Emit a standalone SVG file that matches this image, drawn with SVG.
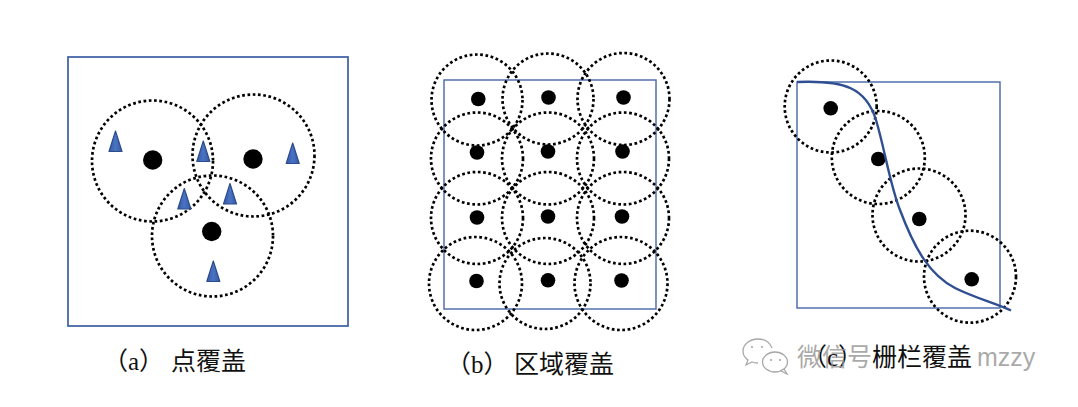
<svg xmlns="http://www.w3.org/2000/svg" xmlns:xlink="http://www.w3.org/1999/xlink" width="1078" height="407" viewBox="0 0 1078 407">
<style>
.frame{fill:none;stroke:#4667a8;stroke-width:1.4}
.cov{fill:none;stroke:#000;stroke-width:2.7;stroke-dasharray:2.7 2.6}
.dot{fill:#000}
.lbl{font-family:"Liberation Serif","Noto Sans CJK SC",serif;font-size:25px;fill:#111}
.wm{font-family:"Liberation Sans","Noto Sans CJK SC",sans-serif;font-size:25px;fill:#9a9a9a;fill-opacity:0.85}
</style>
<defs>
<linearGradient id="tg" x1="0" y1="0" x2="1" y2="0">
<stop offset="0" stop-color="#3659a3"/>
<stop offset="0.5" stop-color="#4a73c4"/>
<stop offset="1" stop-color="#3659a3"/>
</linearGradient>
<polygon id="tri" points="0,0 -6.5,20.5 6.5,20.5" fill="url(#tg)" stroke="#2c4c8c" stroke-width="1.2" stroke-linejoin="round"/>
</defs>
<rect width="1078" height="407" fill="#fff"/>

<g id="panel-a">
<rect class="frame" x="68" y="57" width="280" height="269" style="stroke-width:1.8"/>
<g id="a-node1"><circle class="cov" cx="152.5" cy="161" r="60.5"/><circle class="dot" cx="152.7" cy="160" r="9.7"/></g>
<g id="a-node2"><circle class="cov" cx="253.5" cy="155.5" r="61"/><circle class="dot" cx="253" cy="159" r="9.7"/></g>
<g id="a-node3"><circle class="cov" cx="212.5" cy="236" r="60.5"/><circle class="dot" cx="211.7" cy="231.5" r="9.7"/></g>
<g id="a-targets">
<use xlink:href="#tri" x="115.5" y="131"/>
<use xlink:href="#tri" x="203.3" y="141"/>
<use xlink:href="#tri" x="292.7" y="143"/>
<use xlink:href="#tri" x="184.3" y="188.5"/>
<use xlink:href="#tri" x="230" y="183.5"/>
<use xlink:href="#tri" x="213.3" y="261"/>
</g>
<text class="lbl" y="370"><tspan x="103">（a）</tspan><tspan x="171">点覆盖</tspan></text>
</g>

<g id="panel-b">
<rect class="frame" x="444" y="80" width="212" height="229"/>
<g id="b-r1">
<circle class="cov" cx="477" cy="100" r="45.5"/><circle class="cov" cx="548" cy="99" r="45.5"/><circle class="cov" cx="623.5" cy="99" r="46"/>
</g>
<g id="b-r2">
<circle class="cov" cx="477" cy="158.5" r="46"/><circle class="cov" cx="548" cy="158.5" r="46"/><circle class="cov" cx="623" cy="158.5" r="46"/>
</g>
<g id="b-r3">
<circle class="cov" cx="477" cy="218" r="46"/><circle class="cov" cx="548" cy="218" r="46"/><circle class="cov" cx="623" cy="218" r="46"/>
</g>
<g id="b-r4">
<circle class="cov" cx="475.5" cy="283.5" r="46.5"/><circle class="cov" cx="545" cy="283.5" r="45.5"/><circle class="cov" cx="621" cy="283.5" r="46.5"/>
</g>
<g id="b-dots">
<circle class="dot" cx="478.3" cy="99" r="7.3"/><circle class="dot" cx="548.5" cy="97.5" r="7.3"/><circle class="dot" cx="623.5" cy="97.5" r="7.3"/>
<circle class="dot" cx="477" cy="152.5" r="7.3"/><circle class="dot" cx="548" cy="151.5" r="7.3"/><circle class="dot" cx="622.5" cy="151.5" r="7.3"/>
<circle class="dot" cx="477" cy="217.5" r="7.3"/><circle class="dot" cx="548" cy="216.5" r="7.3"/><circle class="dot" cx="622" cy="216.5" r="7.3"/>
<circle class="dot" cx="476.5" cy="281" r="7.3"/><circle class="dot" cx="548" cy="280.3" r="7.3"/><circle class="dot" cx="621.5" cy="280.5" r="7.3"/>
</g>
<text class="lbl" y="373"><tspan x="446">（b）</tspan><tspan x="514">区域覆盖</tspan></text>
</g>

<g id="panel-c">
<rect class="frame" x="797" y="82" width="203" height="226"/>
<g id="c-node1"><circle class="cov" cx="830.7" cy="106.5" r="46"/><circle class="dot" cx="830.7" cy="108.3" r="7.3"/></g>
<g id="c-node2"><circle class="cov" cx="878.3" cy="157.5" r="46.5"/><circle class="dot" cx="878.3" cy="159" r="7.3"/></g>
<g id="c-node3"><circle class="cov" cx="919" cy="215" r="46.5"/><circle class="dot" cx="919.3" cy="219" r="7.3"/></g>
<g id="c-node4"><circle class="cov" cx="970" cy="276.7" r="46"/><circle class="dot" cx="971.7" cy="279.3" r="7.3"/></g>
<path id="barrier" d="M797,82 C845,80 866,88 876,120 C885,150 890,185 900,210 C915,250 930,275 955,288 C975,298 995,303 1011,310.5" fill="none" stroke="#2f4f92" stroke-width="2.4"/>
<text class="lbl" y="366"><tspan x="802">（c）</tspan><tspan x="872">栅栏覆盖</tspan></text>
</g>

<g id="watermark" fill="none" stroke="#a8a8a8" stroke-width="1.3">
<path d="M758,339 C749,339 743,345 743,351 C743,355 745,358 748,360 L746,365 L752,362 C754,363 756,363 758,363"/>
<path d="M772,348 C770,343 765,339 758,339"/>
<ellipse cx="775" cy="362" rx="12.5" ry="10"/>
<path d="M784,369 L787,374 L781,371" />
<circle cx="752" cy="347" r="1.1" fill="#a8a8a8" stroke="none"/>
<circle cx="762" cy="347" r="1.1" fill="#a8a8a8" stroke="none"/>
<circle cx="771" cy="360" r="1.1" fill="#a8a8a8" stroke="none"/>
<circle cx="780" cy="360" r="1.1" fill="#a8a8a8" stroke="none"/>
<text class="wm" x="797" y="366" stroke="none">微信号</text>
<text class="wm" x="977" y="366" stroke="none">mzzy</text>
</g>
</svg>
